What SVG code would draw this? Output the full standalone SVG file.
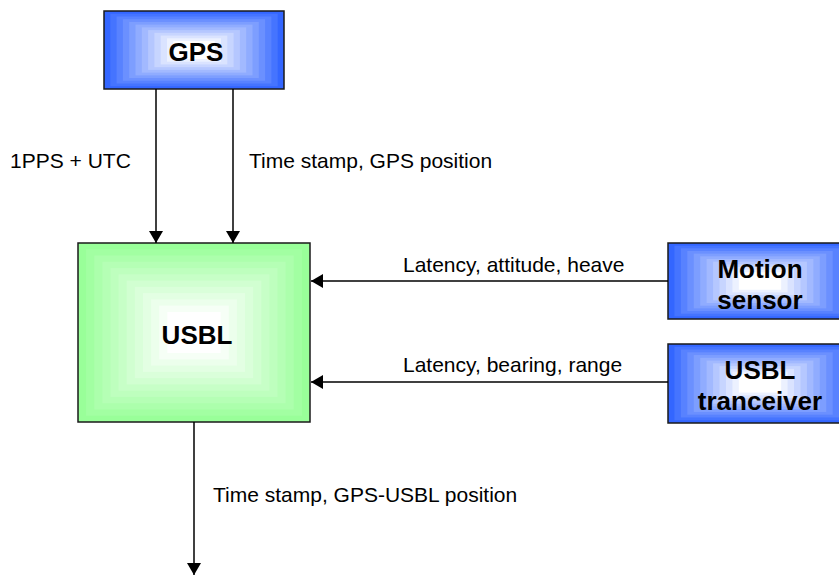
<svg xmlns="http://www.w3.org/2000/svg" xmlns:xlink="http://www.w3.org/1999/xlink" width="839" height="575" viewBox="0 0 839 575">
  <style>
    .box { fill: none; stroke: #1a1a1a; stroke-width: 1.5; }
    .title { font-family: "Liberation Sans", Arial, sans-serif; font-weight: bold; font-size: 26px; fill: #000; text-anchor: middle; }
    .label { font-family: "Liberation Sans", Arial, sans-serif; font-size: 21px; fill: #000; }
    .wire { stroke: #000; stroke-width: 1.5; fill: none; marker-end: url(#head); }
  </style>
  <defs>
    <marker id="head" viewBox="0 0 12 14" refX="12" refY="7" markerWidth="12" markerHeight="14" markerUnits="userSpaceOnUse" orient="auto">
      <path d="M0,0 L12,7 L0,14 Z" fill="#000"/>
    </marker>
    <!-- rectangular "from centre" shading, scaled to each box -->
    <symbol id="blueFill" viewBox="0 0 100 100" preserveAspectRatio="none">
      <rect x="0" y="0" width="100" height="100" fill="#3366FF"/>
      <rect x="3.5" y="3.5" width="93" height="93" fill="#4574FF"/>
      <rect x="7" y="7" width="86" height="86" fill="#5882FF"/>
      <rect x="10.5" y="10.5" width="79" height="79" fill="#6B90FF"/>
      <rect x="14" y="14" width="72" height="72" fill="#7D9EFF"/>
      <rect x="17.5" y="17.5" width="65" height="65" fill="#90ACFF"/>
      <rect x="21" y="21" width="58" height="58" fill="#A2B9FF"/>
      <rect x="24.5" y="24.5" width="51" height="51" fill="#B5C7FF"/>
      <rect x="28" y="28" width="44" height="44" fill="#C7D5FF"/>
      <rect x="31.5" y="31.5" width="37" height="37" fill="#DAE3FF"/>
      <rect x="35" y="35" width="30" height="30" fill="#ECF1FF"/>
      <rect x="38.5" y="38.5" width="23" height="23" fill="#FFFFFF"/>
    </symbol>
    <symbol id="greenFill" viewBox="0 0 100 100" preserveAspectRatio="none">
      <rect x="0" y="0" width="100" height="100" fill="#99FF99"/>
      <rect x="3.5" y="3.5" width="93" height="93" fill="#A2FFA2"/>
      <rect x="7" y="7" width="86" height="86" fill="#ACFFAC"/>
      <rect x="10.5" y="10.5" width="79" height="79" fill="#B5FFB5"/>
      <rect x="14" y="14" width="72" height="72" fill="#BEFFBE"/>
      <rect x="17.5" y="17.5" width="65" height="65" fill="#C7FFC7"/>
      <rect x="21" y="21" width="58" height="58" fill="#D1FFD1"/>
      <rect x="24.5" y="24.5" width="51" height="51" fill="#DAFFDA"/>
      <rect x="28" y="28" width="44" height="44" fill="#E3FFE3"/>
      <rect x="31.5" y="31.5" width="37" height="37" fill="#ECFFEC"/>
      <rect x="35" y="35" width="30" height="30" fill="#F6FFF6"/>
      <rect x="38.5" y="38.5" width="23" height="23" fill="#FFFFFF"/>
    </symbol>
  </defs>

  <rect width="839" height="575" fill="#fff"/>

  <g id="gps">
    <use xlink:href="#blueFill" href="#blueFill" x="104" y="11" width="180" height="78"/>
    <rect class="box" x="104" y="11" width="180" height="78"/>
    <text class="title" x="196" y="61">GPS</text>
  </g>

  <g id="usbl">
    <use xlink:href="#greenFill" href="#greenFill" x="78" y="243" width="232" height="179"/>
    <rect class="box" x="78" y="243" width="232" height="179"/>
    <text class="title" x="197" y="344">USBL</text>
  </g>

  <g id="motion-sensor">
    <use xlink:href="#blueFill" href="#blueFill" x="668" y="243" width="184" height="76"/>
    <rect class="box" x="668" y="243" width="184" height="76"/>
    <text class="title" x="760" y="278">Motion</text>
    <text class="title" x="760" y="309">sensor</text>
  </g>

  <g id="usbl-tranceiver">
    <use xlink:href="#blueFill" href="#blueFill" x="668" y="344" width="184" height="79"/>
    <rect class="box" x="668" y="344" width="184" height="79"/>
    <text class="title" x="760" y="379">USBL</text>
    <text class="title" x="760" y="410">tranceiver</text>
  </g>

  <g id="connectors">
    <line class="wire" x1="156" y1="89" x2="156" y2="243"/>
    <line class="wire" x1="233" y1="89" x2="233" y2="243"/>
    <line class="wire" x1="668" y1="281" x2="311" y2="281"/>
    <line class="wire" x1="668" y1="382" x2="311" y2="382"/>
    <line class="wire" x1="194" y1="422" x2="194" y2="575"/>
  </g>

  <g id="labels">
    <text class="label" x="10" y="168">1PPS + UTC</text>
    <text class="label" x="249" y="168">Time stamp, GPS position</text>
    <text class="label" x="403" y="272">Latency, attitude, heave</text>
    <text class="label" x="403" y="372">Latency, bearing, range</text>
    <text class="label" x="213" y="502">Time stamp, GPS-USBL position</text>
  </g>
</svg>
